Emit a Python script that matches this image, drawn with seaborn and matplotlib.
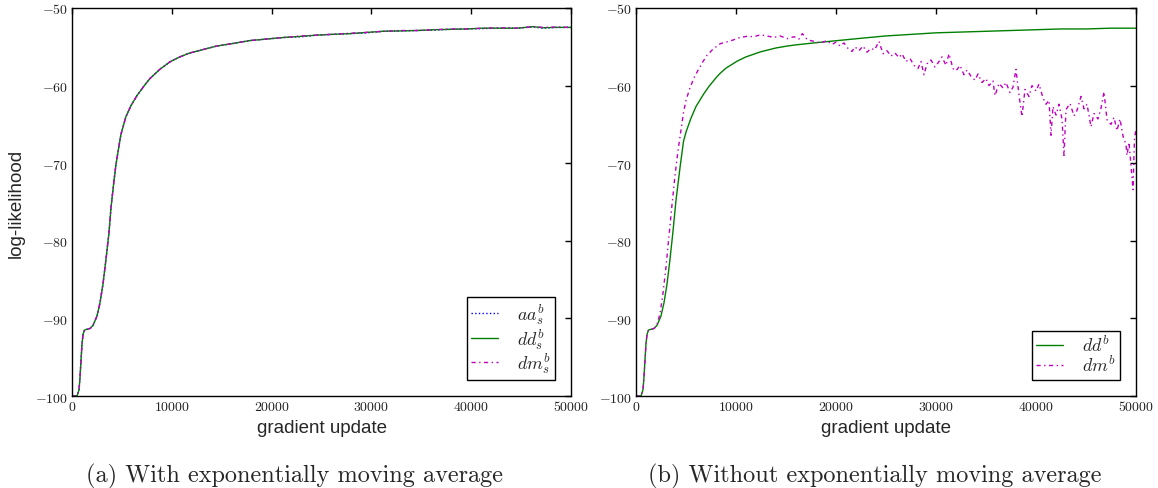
import numpy as np
import pandas as pd
import seaborn as sns
import matplotlib
matplotlib.use("Agg")
import matplotlib.pyplot as plt
from matplotlib.ticker import FuncFormatter, MultipleLocator

# (a) with exponentially moving average -- three runs that lie on top of each other
left_steps = [0, 500, 700, 800, 900, 1000, 1100, 1250, 1500, 1800,
              2100, 2500, 2800, 3100, 3400, 3700, 3900, 4200, 4400, 4700,
              4900, 5400, 5900, 6500, 7300, 7800, 8800, 9800, 10800, 11800,
              13000, 14500, 16000, 17800, 19500, 21200, 23000, 24500, 26000, 27900,
              29500, 31200, 33000, 34600, 36300, 37900, 39500, 41200, 43000, 44600,
              46200, 47200, 48500, 50000]
left_dd = [-100, -100, -99.2, -97.6, -95.4, -93.3, -92.1, -91.5, -91.4, -91.3,
           -90.9, -89.7, -88.0, -85.6, -82.4, -79.0, -75.8, -72.3, -70.2, -67.8,
           -66.3, -64.0, -62.6, -61.3, -59.9, -59.1, -57.9, -56.95, -56.3, -55.8,
           -55.4, -54.9, -54.6, -54.2, -54.0, -53.8, -53.65, -53.5, -53.4, -53.3,
           -53.15, -53.0, -52.95, -52.9, -52.8, -52.75, -52.7, -52.6, -52.6, -52.6,
           -52.4, -52.55, -52.5, -52.5]
left_aa = [-100, -100, -99.2, -97.6, -95.4, -93.3, -92.1, -91.5, -91.4, -91.3,
           -90.9, -89.7, -88.0, -85.6, -82.4, -79.0, -75.8, -72.3, -70.2, -67.8,
           -66.3, -64.0, -62.6, -61.3, -59.9, -59.1, -57.9, -56.95, -56.3, -55.8,
           -55.4, -54.9, -54.6, -54.2, -54.0, -53.8, -53.7, -53.5, -53.4, -53.3,
           -53.2, -53.0, -52.95, -52.9, -52.85, -52.75, -52.7, -52.65, -52.6, -52.6,
           -52.45, -52.6, -52.5, -52.5]
left_dm = [-100, -100, -99.2, -97.6, -95.4, -93.3, -92.1, -91.5, -91.4, -91.3,
           -90.9, -89.7, -88.0, -85.6, -82.4, -79.0, -75.8, -72.3, -70.2, -67.8,
           -66.3, -64.0, -62.6, -61.3, -59.9, -59.1, -57.9, -56.95, -56.3, -55.8,
           -55.4, -54.9, -54.6, -54.2, -54.0, -53.8, -53.6, -53.5, -53.4, -53.25,
           -53.15, -53.0, -52.9, -52.9, -52.8, -52.7, -52.7, -52.6, -52.55, -52.6,
           -52.4, -52.5, -52.45, -52.5]

# (b) without exponentially moving average
right_dd_steps = [0, 500, 700, 800, 900, 1000, 1100, 1250, 1500, 1800,
                  2100, 2500, 2800, 3100, 3400, 3700, 4000, 4400, 4750, 5000,
                  5500, 6000, 6760, 7300, 8000, 8430, 9000, 10110, 11000, 12450,
                  14000, 15130, 16000, 17800, 20150, 22500, 25000, 27500, 30000, 32500,
                  35000, 37500, 40000, 42500, 45000, 47500, 50000]
right_dd = [-100, -100, -99.2, -97.6, -95.4, -93.3, -92.1, -91.5, -91.4, -91.3,
            -90.9, -89.7, -88.0, -85.6, -82.4, -78.8, -74.8, -70.6, -67.2, -66.0,
            -64.2, -62.7, -61.1, -60.1, -59.0, -58.4, -57.75, -56.85, -56.3, -55.65,
            -55.15, -54.9, -54.75, -54.5, -54.2, -53.9, -53.6, -53.4, -53.2, -53.1,
            -53.0, -52.9, -52.8, -52.7, -52.7, -52.6, -52.6]

right_dm_steps = [0, 500, 700, 800, 900, 1000, 1100, 1250, 1500, 1800,
                  2100, 2400, 2700, 3000, 3300, 3600, 3900, 4200, 4420, 4750,
                  5000, 5400, 5800, 6260, 6700, 7100, 7700, 8430, 9000, 9770,
                  10400, 11110, 11800, 12450, 13100, 13780, 14400, 15130, 15800, 16300,
                  16640, 17140, 17800, 18470, 19100, 19600,
                  20000, 20400, 20800, 21200, 21600, 21900, 22300, 22700, 23100, 23500,
                  23860, 24300, 24700, 25100, 25500, 25900, 26300, 26600, 27000, 27400,
                  27800, 28200, 28500, 28800, 29100, 29500, 29900, 30300, 30600, 31000,
                  31300, 31700, 32000, 32400, 32800, 33100, 33500, 33900, 34200, 34600,
                  35000, 35300, 35700, 35900, 36300, 36700, 37000, 37400, 37700, 38000,
                  38300, 38600, 38900, 39300, 39600, 40000, 40300, 40700, 41000, 41300,
                  41500, 41700, 42000, 42300, 42600, 42800, 43000, 43400, 43800, 44100,
                  44500, 44800, 45100, 45500, 45800, 46200, 46500, 46800, 47100, 47500,
                  47800, 48100, 48400, 48700, 49000, 49100, 49300, 49500, 49700, 49850,
                  50000]
right_dm = [-100, -100, -99.2, -97.6, -95.4, -93.3, -92.1, -91.5, -91.4, -91.3,
            -90.8, -89.4, -86.8, -83.4, -79.4, -75.4, -71.6, -68.4, -66.4, -63.5,
            -61.9, -60.3, -59.0, -57.9, -56.9, -56.1, -55.3, -54.6, -54.4, -54.1,
            -53.8, -53.65, -53.7, -53.45, -53.6, -53.8, -53.6, -53.95, -53.7, -54.0,
            -53.3, -54.1, -54.3, -54.5, -54.2, -54.7,
            -54.4, -54.9, -54.5, -55.2, -55.6, -55.0, -55.5, -54.9, -55.7, -55.2,
            -55.4, -54.3, -55.9, -55.5, -56.2, -55.8, -56.4, -55.9, -56.9, -56.5,
            -57.4, -57.8, -56.9, -58.6, -57.2, -56.7, -57.6, -56.9, -56.3, -57.4,
            -55.9, -57.8, -58.1, -57.4, -58.6, -58.0, -58.8, -59.3, -58.5, -59.6,
            -59.1, -60.0, -59.4, -61.3, -59.7, -60.3, -59.6, -60.9, -60.2, -57.9,
            -61.2, -64.0, -60.5, -61.4, -60.0, -60.7, -59.8, -61.6, -62.4, -61.9,
            -66.4, -62.7, -63.8, -62.4, -64.3, -69.0, -63.1, -62.3, -63.9, -63.2,
            -61.4, -63.0, -62.4, -65.3, -63.6, -64.3, -62.9, -60.8, -64.4, -65.0,
            -64.1, -65.8, -64.3, -66.5, -67.6, -69.0, -67.3, -70.4, -73.4, -66.8,
            -65.6]

captions = ["(a) With exponentially moving average",
            "(b) Without exponentially moving average"]

sns.set_style("white")
plt.rcParams["mathtext.fontset"] = "cm"
plt.rcParams["font.family"] = ["Liberation Sans", "DejaVu Sans"]

BLUE = "#0000ff"
GREEN = "#008000"
MAGENTA = "#bf00bf"
DASHDOT = (0, (3, 2.5, 1, 2.5))

fig = plt.figure(figsize=(11.58, 4.89), dpi=100)
ax_a = fig.add_axes([0.0622, 0.1881, 0.4309, 0.7935])
ax_b = fig.add_axes([0.5492, 0.1881, 0.4318, 0.7935])

sns.lineplot(x=left_steps, y=left_aa, ax=ax_a, color=BLUE, linestyle=":", lw=1, label=r"$aa_s^b$")
sns.lineplot(x=left_steps, y=left_dd, ax=ax_a, color=GREEN, linestyle="-", lw=1, label=r"$dd_s^b$")
sns.lineplot(x=left_steps, y=left_dm, ax=ax_a, color=MAGENTA, linestyle=DASHDOT, lw=1, label=r"$dm_s^b$")

sns.lineplot(x=right_dd_steps, y=right_dd, ax=ax_b, color=GREEN, linestyle="-", lw=1, label=r"$dd^b$")
sns.lineplot(x=right_dm_steps, y=right_dm, ax=ax_b, color=MAGENTA, linestyle=DASHDOT, lw=1, label=r"$dm^b$")

fmt = FuncFormatter(lambda v, p: f"${v:.0f}$")
for ax in (ax_a, ax_b):
    ax.set_xlim(0, 50000)
    ax.set_ylim(-100, -50)
    ax.xaxis.set_major_locator(MultipleLocator(10000))
    ax.yaxis.set_major_locator(MultipleLocator(10))
    ax.xaxis.set_major_formatter(fmt)
    ax.yaxis.set_major_formatter(fmt)
    ax.tick_params(direction="in", top=True, right=True, length=4, width=1,
                   labelsize=10, colors="black", labelcolor="#222222")
    ax.tick_params(axis="x", pad=2)
    ax.tick_params(axis="y", pad=3)
    for s in ax.spines.values():
        s.set_color("black")
        s.set_linewidth(1)
    ax.set_xlabel("gradient update", fontsize=13.5, labelpad=4.5)
    ax.set_ylabel("")
    leg = ax.legend(loc="lower right", fontsize=13, frameon=True, fancybox=False,
                    edgecolor="black", framealpha=1, handlelength=1.5,
                    handletextpad=1.0, borderaxespad=0.9, labelspacing=0.0,
                    borderpad=0.25)
    leg.get_frame().set_linewidth(1)

ax_a.set_ylabel("log-likelihood", fontsize=13.5)
ax_a.yaxis.set_label_coords(-0.094, 0.5)

fig.text(295 / 1158, 1 - 482 / 489, captions[0], family="cmr10", fontsize=17.5,
         ha="center", va="baseline")
fig.text(875 / 1158, 1 - 482 / 489, captions[1], family="cmr10", fontsize=17.5,
         ha="center", va="baseline")

fig.savefig("out.png", dpi=100)
